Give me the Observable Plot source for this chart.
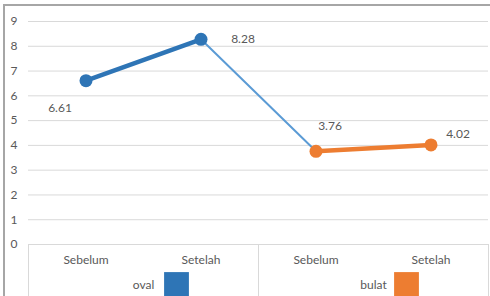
<!DOCTYPE html>
<html>
<head>
<meta charset="utf-8">
<script src="https://cdn.jsdelivr.net/npm/d3@7"></script>
<script src="https://cdn.jsdelivr.net/npm/@observablehq/plot@0.6"></script>
<style>
  html, body { margin: 0; padding: 0; background: #fff; }
  #wrap { position: relative; width: 490px; height: 296px; overflow: hidden; }
  #border { position: absolute; left: 3px; top: 4px; right: -4px; bottom: -4px;
            border-top: 2px solid #a6a6a6; border-left: 2px solid #a6a6a6; pointer-events: none; }
  svg { font-family: Lato, "Open Sans", sans-serif; }
</style>
</head>
<body>
<div id="wrap"><div id="border"></div></div>
<script>
const categories = ["Sebelum", "Setelah", "Sebelum", "Setelah"];
const groups = ["oval", "oval", "bulat", "bulat"];
const values = [6.61, 8.28, 3.76, 4.02];
const groupNames = ["oval", "bulat"];
const groupColors = ["#2E75B6", "#ED7D31"];
const yTicks = [0, 1, 2, 3, 4, 5, 6, 7, 8, 9];

const data = categories.map((c, i) => ({i, cat: c, group: groups[i], value: values[i]}));
const groupInfo = groupNames.map((g, k) => {
  const idx = data.filter(d => d.group === g).map(d => d.i);
  return {group: g, color: groupColors[k], center: d3.mean(idx), lo: d3.min(idx) - 0.5, hi: d3.max(idx) + 0.5};
});
const edges = Array.from(new Set(groupInfo.flatMap(g => [g.lo, g.hi])));
const colorOf = g => groupColors[groupNames.indexOf(g)];
const connector = data.filter((d, k) => k > 0 && k < data.length - 1 && (data[k-1].group !== d.group || data[k+1].group !== d.group));

const txt = "#595959";
const fs = 12;
const label = (i, dx, dy) => Plot.text(data.filter(d => d.i === i), {
  x: "i", y: "value", text: d => d.value.toFixed(2), dx, dy, fill: txt, fontSize: fs
});

const chart = Plot.plot({
  width: 490, height: 296,
  marginLeft: 28, marginRight: 2, marginTop: 21, marginBottom: 52,
  x: {domain: [-0.5, 3.5], axis: null},
  y: {domain: [0, 9], axis: null},
  marks: [
    Plot.gridY(yTicks, {stroke: "#d9d9d9", strokeOpacity: 1}),
    Plot.axisY(yTicks, {tickSize: 0, tickPadding: 11, fill: txt, fontSize: fs, label: null}),
    Plot.ruleX(edges, {x: d => d, y1: 0, y2: -2.2, stroke: "#d9d9d9"}),
    Plot.text(data, {x: "i", y: 0, text: "cat", dy: 16, fill: txt, fontSize: fs}),
    Plot.text(groupInfo, {x: "center", y: 0, text: "group", dy: 41, fill: txt, fontSize: fs}),
    Plot.dot(groupInfo, {x: "center", y: 0, dx: 33, dy: 40, symbol: "square", r: 14, fill: "color", stroke: "none"}),
    Plot.line(connector, {x: "i", y: "value", stroke: "#5B9BD5", strokeWidth: 2}),
    ...groupNames.map(g => Plot.line(data.filter(d => d.group === g), {x: "i", y: "value", stroke: colorOf(g), strokeWidth: 4.5})),
    Plot.dot(data, {x: "i", y: "value", r: 6.5, fill: d => colorOf(d.group), stroke: "none"}),
    label(0, -26, 27),
    label(1, 42, 0),
    label(2, 14, -25),
    label(3, 27, -11)
  ]
});
document.getElementById("wrap").prepend(chart);
</script>
</body>
</html>
